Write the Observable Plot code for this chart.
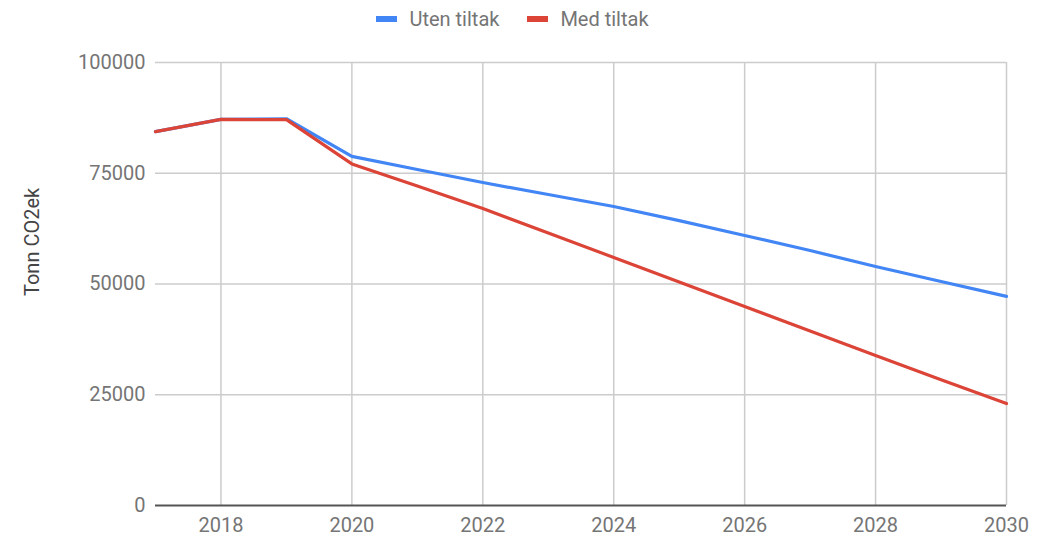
<!DOCTYPE html>
<html><head><meta charset="utf-8">
<script src="https://cdn.jsdelivr.net/npm/d3@7"></script>
<script src="https://cdn.jsdelivr.net/npm/@observablehq/plot@0.6"></script>
<style>
body{margin:0;background:#fff;font-family:Roboto,sans-serif;}
#legend{height:38px;display:flex;justify-content:center;align-items:center;gap:28px;font-size:20px;color:#757575;padding-right:26px;box-sizing:border-box;}
.item{display:flex;align-items:center;}
.sw{width:21px;height:6px;margin-right:12px;}
</style></head>
<body>
<div id="legend"></div>
<div id="chart"></div>
<script>
const years = [2017,2018,2019,2020,2021,2022,2023,2024,2025,2026,2027,2028,2029,2030];
const utenTiltak = [84400,87150,87300,78800,75850,72900,70200,67500,64300,60950,57550,53950,50550,47200];
const medTiltak  = [84400,87150,87100,77100,72100,67050,61500,56000,50450,44900,39400,33850,28400,23000];
const seriesNames = ["Uten tiltak","Med tiltak"];
const seriesColors = ["#4285F4","#DB4437"];
const yTicks = [0,25000,50000,75000,100000];
const xTicks = [2018,2020,2022,2024,2026,2028,2030];

const data = [];
years.forEach((y,i)=>{
  data.push({year:y, value:utenTiltak[i], series:seriesNames[0]});
  data.push({year:y, value:medTiltak[i], series:seriesNames[1]});
});

const leg = document.getElementById("legend");
seriesNames.forEach((n,i)=>{
  const d = document.createElement("div"); d.className="item";
  d.innerHTML = `<span class="sw" style="background:${seriesColors[i]}"></span><span>${n}</span>`;
  leg.appendChild(d);
});

const chart = Plot.plot({
  width: 1051, height: 500,
  marginLeft: 155, marginRight: 45, marginTop: 24, marginBottom: 33,
  style: {fontFamily: "Roboto, sans-serif", fontSize: "20px", color: "#757575", background: "#fff"},
  x: {domain: [2017, 2030], ticks: xTicks, tickFormat: d => String(d), tickSize: 0, tickPadding: 12, label: null},
  y: {domain: [0, 100000], ticks: yTicks, tickFormat: d => String(d), tickSize: 0, tickPadding: 10, label: null},
  color: {domain: seriesNames, range: seriesColors},
  marks: [
    Plot.gridX(xTicks, {stroke: "#cccccc", strokeOpacity: 1, strokeWidth: 1.5}),
    Plot.gridY(yTicks.filter(d=>d>0), {stroke: "#cccccc", strokeOpacity: 1, strokeWidth: 1.5}),
    Plot.axisX({ticks: xTicks, tickFormat: d => String(d), tickSize: 0, tickPadding: 12, fill: "#757575"}),
    Plot.axisY({ticks: yTicks, tickFormat: d => String(d), tickSize: 0, tickPadding: 10, fill: "#757575"}),
    Plot.ruleY([0], {stroke: "#555555", strokeWidth: 2}),
    Plot.line(data, {x: "year", y: "value", z: "series", stroke: "series", strokeWidth: 3.2}),
    Plot.text(["Tonn CO2ek"], {frameAnchor: "left", dx: -123, dy: 12, rotate: -90, fill: "#444", fontSize: 20})
  ]
});
document.getElementById("chart").appendChild(chart);
</script>
</body></html>
